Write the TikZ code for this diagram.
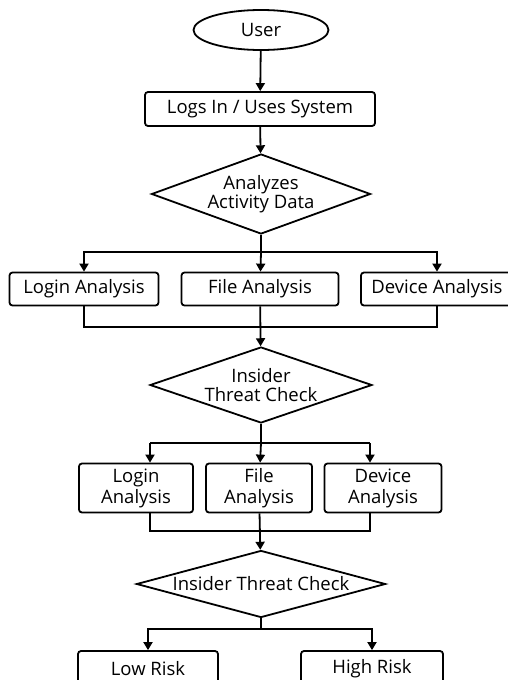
\documentclass[tikz,border=0pt]{standalone}
\usepackage{fontspec}
\setmainfont{Open Sans}
\usetikzlibrary{shapes.geometric,arrows.meta}

\tikzset{
  box/.style={draw,rounded corners=3pt,line width=1.8pt,inner sep=2pt,align=center},
  decision/.style={draw,diamond,line width=1.8pt,inner sep=0pt,align=center,
    font=\fontsize{18.5}{19}\selectfont},
  flow/.style={line width=1.8pt,-{Triangle[length=8pt,width=9pt]}},
  plain/.style={line width=1.8pt}
}

\begin{document}
\begin{tikzpicture}[x=1pt,y=-1pt,font=\fontsize{18.5}{21}\selectfont]
\useasboundingbox[fill=white] (0,0) rectangle (507,680);

\node[draw,ellipse,line width=1.8pt,minimum width=135pt,minimum height=40pt] at (261,30) (user) {User};
\node[box,minimum width=230pt,minimum height=34pt] at (260,109) (logs) {Logs In / Uses System};
\node[decision,aspect=2.74,minimum width=219pt,minimum height=80pt] at (261,194) (ana) {Analyzes\\Activity Data};

\node[box,minimum width=149pt,minimum height=33pt] at (84,289) (login1) {Login Analysis};
\node[box,minimum width=157pt,minimum height=33pt] at (260,289) (file1) {File Analysis};
\node[box,minimum width=152pt,minimum height=33pt] at (437,289) (device1) {Device Analysis};

\node[decision,aspect=2.93,minimum width=222pt,minimum height=76pt] at (261,385) (check1) {Insider\\Threat Check};

\node[box,minimum width=114pt,minimum height=49pt] at (136,488) (login2) {Login\\Analysis};
\node[box,minimum width=106pt,minimum height=49pt] at (259,488) (file2) {File\\Analysis};
\node[box,minimum width=117pt,minimum height=49pt] at (383,488) (device2) {Device\\Analysis};

\node[decision,aspect=3.7,minimum width=249pt,minimum height=67pt] at (261,584) (check2) {Insider Threat Check};

\node[box,minimum width=140pt,minimum height=36pt] at (148,669) (low) {Low Risk};
\node[box,minimum width=142pt,minimum height=36pt] at (372,669) (high) {High Risk};

\coordinate (spl1) at (261,252);
\coordinate (mrg1) at (261,327);
\coordinate (spl2) at (261,443);
\coordinate (l2) at (150,443);
\coordinate (r2) at (370,443);
\coordinate (mrg2) at (261,531);
\coordinate (spl3) at (261,629);

% top
\draw[flow] (user) -- (logs);
\draw[flow] (logs) -- (ana);

% first split
\draw[plain] (ana) -- (spl1);
\draw[flow] (spl1) -| (login1);
\draw[flow] (spl1) -- (file1);
\draw[flow] (spl1) -| (device1);

% first merge
\draw[plain] (login1) |- (mrg1) -| (device1);
\draw[flow] (file1) -- (check1);

% second split
\draw[plain] (check1) -- (spl2);
\draw[plain] (l2) -- (r2);
\draw[flow] (l2) -- (l2 |- login2.north);
\draw[flow] (spl2) -- (file2);
\draw[flow] (r2) -- (r2 |- device2.north);

% second merge
\draw[plain] (l2 |- login2.south) |- (mrg2) -| (r2 |- device2.south);
\draw[flow] (file2) -- (check2);

% risk
\draw[plain] (check2) -- (spl3);
\draw[flow] (spl3) -| (low);
\draw[flow] (spl3) -| (high);
\end{tikzpicture}
\end{document}
